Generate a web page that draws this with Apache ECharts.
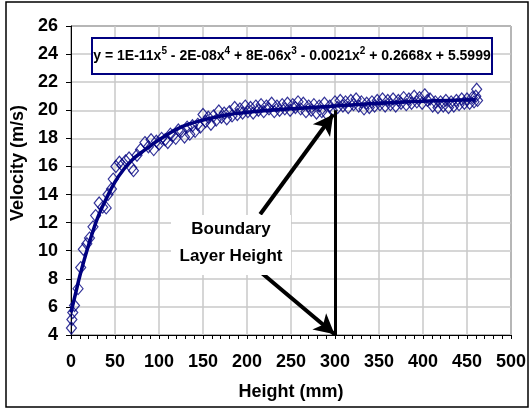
<!DOCTYPE html>
<html>
<head>
<meta charset="utf-8">
<script src="https://cdn.jsdelivr.net/npm/echarts@6/dist/echarts.min.js"></script>
<style>
html, body { margin: 0; padding: 0; background: #fff; }
#chart { width: 532px; height: 410px; }
</style>
</head>
<body>
<div id="chart"></div>
<script>
const heights = [0.5, 1, 2, 4, 8, 11, 14, 18, 21, 25, 28, 32, 36, 40, 42, 46, 48, 51, 55, 58, 62, 66, 69, 71, 75, 79, 84, 88, 91, 94, 97,
  100, 103, 107, 110, 113, 116, 119, 122, 126, 129, 132, 135, 138, 141, 144, 147, 150, 153, 156, 159, 162, 165, 168, 171, 174, 177,
  180, 183, 186, 189, 192, 195, 198, 201, 204, 207, 210, 213, 216, 219, 222, 225, 228, 231, 234, 237, 240, 243, 246, 249, 252, 255,
  258, 261, 264, 267, 270, 273, 276, 279, 282, 285, 288, 291, 294, 297, 300, 303, 306, 309, 312, 315, 318, 321, 324, 327, 330, 333,
  336, 339, 342, 345, 348, 351, 354, 357, 360, 363, 366, 369, 372, 375, 378, 381, 384, 387, 390, 393, 396, 399, 402, 405, 408, 411,
  414, 417, 420, 423, 426, 429, 432, 435, 438, 441, 444, 447, 450, 453, 456, 458, 460, 461, 462]
const velocities = [4.5, 5.1, 5.6, 6.1, 7.3, 8.8, 10.1, 10.5, 10.9, 11.7, 12.5, 13.4, 13.1, 13.05, 14.0, 14.4, 15.1, 16.0, 16.3, 16.1, 16.4, 16.6, 15.9, 15.7, 16.8, 17.2, 17.7, 17.4, 17.9, 17.2, 17.8,
  17.6, 18.0, 17.9, 17.7, 18.3, 18.2, 18.0, 18.6, 18.5, 18.1, 18.8, 18.3, 18.9, 18.5, 19.0, 18.8, 19.7, 19.2, 19.5, 19.0, 19.6, 19.3, 19.95, 19.5, 19.8, 19.4,
  19.9, 19.6, 20.2, 19.7, 20.1, 19.8, 20.3, 19.9, 20.2, 19.8, 20.3, 20.0, 20.4, 19.9, 20.3, 20.1, 20.5, 19.9, 20.3, 20.0, 20.4, 20.1, 20.5, 20.0, 20.4, 20.2,
  20.6, 20.1, 20.5, 19.9, 20.3, 20.0, 20.4, 19.8, 20.3, 19.9, 20.5, 19.7, 20.3, 20.0, 20.6, 20.2, 20.7, 20.3, 20.6, 20.2, 20.7, 20.4, 20.8, 20.3, 20.6, 20.1,
  20.5, 20.2, 20.6, 20.3, 20.7, 20.4, 20.8, 20.3, 20.7, 20.4, 20.8, 20.3, 20.7, 20.5, 20.9, 20.4, 20.8, 20.5, 21.0, 20.6, 20.9, 20.5, 21.1, 20.7, 20.8, 20.3,
  20.6, 20.2, 20.6, 20.3, 20.7, 20.2, 20.6, 20.3, 20.7, 20.4, 20.8, 20.5, 20.8, 20.5, 20.9, 20.6, 21.0, 21.5, 20.7]

// polynomial trend line
const trendHeights = [0, 5, 10, 20, 30, 40, 50, 60, 70, 80, 90, 100, 125, 150, 175, 200, 250, 300, 350, 400, 460]
const trendVelocities = [5.6, 6.9, 8.2, 10.4, 12.3, 13.7, 14.9, 15.8, 16.5, 17.0, 17.45, 17.9, 18.8, 19.3, 19.65, 19.85, 20.1, 20.3, 20.5, 20.65, 20.75]

// boundary layer annotation
const boundaryHeight = 300
const boundaryVelocity = 20.0
const upperArrow = [[215, 12.6], [298, 19.7]]
const lowerArrow = [[217, 8.4], [299.5, 4.05]]

const navy = '#000080'
const font = 'Liberation Sans, Arial, sans-serif'

const chart = echarts.init(document.getElementById('chart'))

const option = {
  animation: false,
  backgroundColor: '#fff',
  grid: {
    left: 71, right: 21, top: 26, bottom: 75,
    show: true, borderColor: '#000', borderWidth: 1, backgroundColor: '#fff'
  },
  xAxis: {
    type: 'value', min: 0, max: 500, interval: 50,
    axisLine: { lineStyle: { color: '#000', width: 1 } },
    axisTick: { show: true, length: 4, lineStyle: { color: '#000' } },
    minorTick: { show: true, splitNumber: 5, length: 4, lineStyle: { color: '#000' } },
    splitLine: { show: true, lineStyle: { color: '#c8c8c8', width: 1.5 } },
    axisLabel: { color: '#000', fontWeight: 'bold', fontSize: 18, fontFamily: font, margin: 18 }
  },
  yAxis: {
    type: 'value', min: 4, max: 26, interval: 2,
    axisLine: { show: true, lineStyle: { color: '#000', width: 1 } },
    axisTick: { show: true, length: 5, lineStyle: { color: '#000' } },
    splitLine: { show: true, lineStyle: { color: '#c8c8c8', width: 1.5 } },
    axisLabel: { color: '#000', fontWeight: 'bold', fontSize: 18, fontFamily: font, margin: 13 }
  },
  series: [
    {
      type: 'scatter',
      symbol: 'diamond',
      symbolSize: [10, 12],
      data: heights.map((h, i) => [h, velocities[i]]),
      itemStyle: { color: 'rgba(255,255,255,0)', borderColor: navy, borderWidth: 1.2 },
      silent: true
    },
    {
      type: 'line',
      smooth: 0.4,
      showSymbol: false,
      data: trendHeights.map((h, i) => [h, trendVelocities[i]]),
      lineStyle: { color: navy, width: 3.5 },
      silent: true,
      z: 3,
      markLine: {
        silent: true,
        animation: false,
        label: { show: false },
        symbol: ['none', 'none'],
        lineStyle: { color: '#000', width: 3, type: 'solid' },
        data: [
          [{ coord: [boundaryHeight, 4] }, { coord: [boundaryHeight, boundaryVelocity] }]
        ]
      }
    },
    {
      type: 'line',
      data: [],
      silent: true,
      z: 6,
      markLine: {
        silent: true,
        animation: false,
        label: { show: false },
        symbol: ['none', 'arrow'],
        symbolSize: [16, 20],
        lineStyle: { color: '#000', width: 4, type: 'solid' },
        data: [
          [{ coord: upperArrow[0] }, { coord: upperArrow[1] }],
          [{ coord: lowerArrow[0] }, { coord: lowerArrow[1] }]
        ]
      }
    }
  ],
  graphic: [
    { type: 'rect', shape: { x: 6, y: 2, width: 522, height: 405 }, style: { fill: 'none', stroke: '#000', lineWidth: 1.5 }, z: 100, silent: true },
    { type: 'rect', shape: { x: 171, y: 215, width: 120, height: 60 }, style: { fill: '#fff' }, z: 50, silent: true },
    {
      type: 'text', x: 231, y: 216, z: 51, silent: true,
      style: { text: 'Boundary\nLayer Height', font: 'bold 17px ' + font, fill: '#000', align: 'center', lineHeight: 27 }
    },
    { type: 'rect', shape: { x: 92, y: 38, width: 400, height: 36 }, style: { fill: '#fff', stroke: navy, lineWidth: 2 }, z: 50, silent: true },
    {
      type: 'text', x: 292, y: 56, z: 51, silent: true,
      style: {
        text: '{n|y = 1E-11x}{s|5}{n| - 2E-08x}{s|4}{n| + 8E-06x}{s|3}{n| - 0.0021x}{s|2}{n| + 0.2668x + 5.5999}',
        align: 'center', verticalAlign: 'middle',
        rich: {
          n: { font: 'bold 14px ' + font, fill: '#000', lineHeight: 20 },
          s: { font: 'bold 10px ' + font, fill: '#000', lineHeight: 20, verticalAlign: 'top', padding: [0, 0, 8, 0] }
        }
      }
    },
    {
      type: 'text', x: 18, y: 163, rotation: Math.PI / 2, z: 51, silent: true,
      style: { text: 'Velocity (m/s)', font: 'bold 18px ' + font, fill: '#000', align: 'center', verticalAlign: 'middle' }
    },
    {
      type: 'text', x: 291, y: 392, z: 51, silent: true,
      style: { text: 'Height (mm)', font: 'bold 18px ' + font, fill: '#000', align: 'center', verticalAlign: 'middle' }
    }
  ]
}

chart.setOption(option)
</script>
</body>
</html>
